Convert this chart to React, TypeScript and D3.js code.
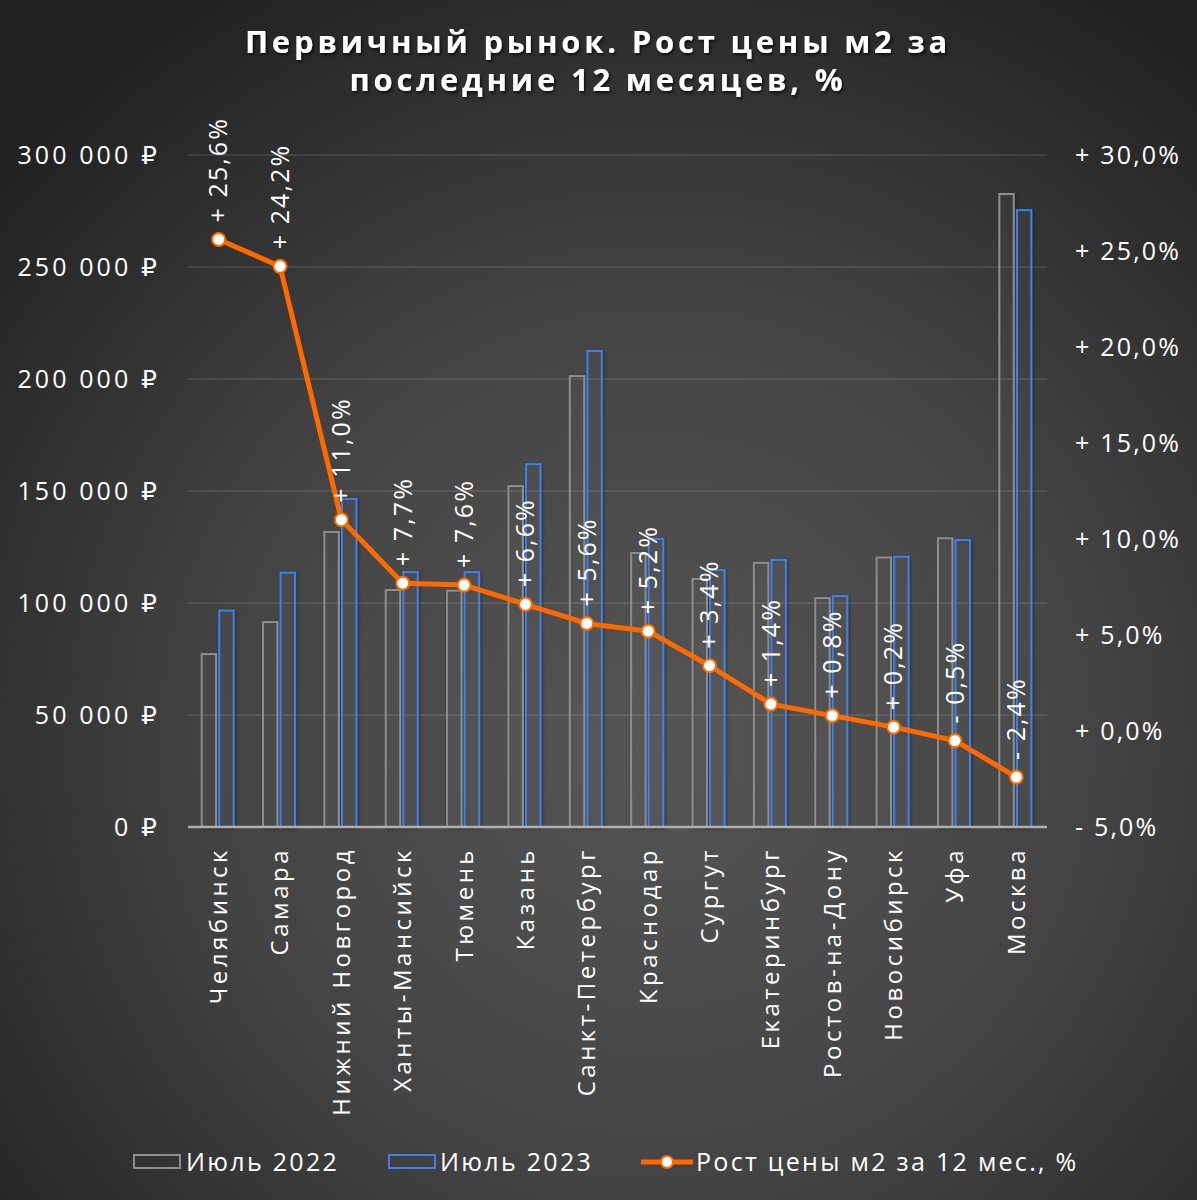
import React from "react";
import * as d3 from "d3";

const cities = ["Челябинск","Самара","Нижний Новгород","Ханты-Мансийск","Тюмень","Казань","Санкт-Петербург","Краснодар","Сургут","Екатеринбург","Ростов-на-Дону","Новосибирск","Уфа","Москва"];
const july2022 = [77200,91500,131700,105800,105500,152200,201300,122300,110700,117900,102200,120300,128900,282600];
const july2023 = [96600,113500,146400,113800,113800,162000,212500,128600,114700,119200,103100,120600,128100,275400];
const growth = [25.6,24.2,11.0,7.7,7.6,6.6,5.6,5.2,3.4,1.4,0.8,0.2,-0.5,-2.4];
const leftTicks = [0,50000,100000,150000,200000,250000,300000];
const rightTicks = [-5,0,5,10,15,20,25,30];
const series = ["Июль 2022","Июль 2023"];
const lineName = "Рост цены м2 за 12 мес., %";
const titleLines = ["Первичный рынок. Рост цены м2 за","последние 12 месяцев, %"];

const W = 1197, H = 1200;
const FONT = "'Open Sans','DejaVu Sans',sans-serif";
const ORANGE = "#ff6a00";
const GRAY = "#8e8e8e";
const BLUE = "#3f80ea";

const fmtNum = (v: number) => (v === 0 ? "0 ₽" : d3.format(",")(v).replace(/,/g, " ") + " ₽");
const fmtPct = (v: number) => (v < 0 ? "- " : "+ ") + Math.abs(v).toFixed(1).replace(".", ",") + "%";

export default function App() {
  const x = d3.scaleBand<string>().domain(cities).range([188, 1047]);
  const bw = x.bandwidth();
  const x1 = d3.scaleBand<string>().domain(series).range([bw / 2 - 17, bw / 2 + 15]).paddingInner(0.18);
  const yL = d3.scaleLinear().domain([0, 300000]).range([827, 155]);
  const yR = d3.scaleLinear().domain([-5, 30]).range([827, 155]);
  const cx = (c: string) => (x(c) as number) + bw / 2;
  const line = d3.line<number>().x((_, i) => cx(cities[i])).y((d) => yR(d));

  return (
    <svg width={W} height={H} style={{ display: "block", position: "absolute", left: 0, top: 0 }} fontFamily={FONT}>
      <defs>
        <radialGradient id="bg" cx="55%" cy="62%" r="72%">
          <stop offset="0%" stopColor="#555555" />
          <stop offset="50%" stopColor="#444444" />
          <stop offset="100%" stopColor="#222222" />
        </radialGradient>
        <filter id="ts" x="-10%" y="-30%" width="120%" height="160%">
          <feDropShadow dx="1.5" dy="2" stdDeviation="1.5" floodColor="#000" floodOpacity="0.7" />
        </filter>
        <filter id="bs" x="-50%" y="-10%" width="200%" height="120%">
          <feDropShadow dx="1" dy="1" stdDeviation="1.5" floodColor="#000" floodOpacity="0.45" />
        </filter>
      </defs>
      <rect x={0} y={0} width={W} height={H} fill="url(#bg)" />

      {titleLines.map((t, i) => (
        <text key={i} x={598} y={53 + i * 38} textAnchor="middle" fill="#fff" fontSize={31} fontWeight={700} letterSpacing={3.8} filter="url(#ts)">{t}</text>
      ))}

      {leftTicks.map((t) => (
        <g key={t}>
          {t !== 0 && <line x1={188} x2={1047} y1={yL(t)} y2={yL(t)} stroke="#ffffff" strokeOpacity={0.13} strokeWidth={1.5} />}
          <text x={160} y={yL(t)} dy="0.35em" textAnchor="end" fill="#fff" fontSize={25} letterSpacing={3.1}>{fmtNum(t)}</text>
        </g>
      ))}
      {rightTicks.map((t) => (
        <text key={t} x={1075} y={yR(t)} dy="0.35em" textAnchor="start" fill="#fff" fontSize={25} letterSpacing={2.2}>{fmtPct(t)}</text>
      ))}

      {cities.map((c, i) => (
        <g key={c} transform={`translate(${x(c)},0)`} filter="url(#bs)">
          <rect x={x1(series[0])} y={yL(july2022[i])} width={x1.bandwidth()} height={yL(0) - yL(july2022[i])} fill="#ffffff" fillOpacity={0.02} stroke={GRAY} strokeWidth={2} />
          <rect x={x1(series[1])} y={yL(july2023[i])} width={x1.bandwidth()} height={yL(0) - yL(july2023[i])} fill="#ffffff" fillOpacity={0.02} stroke={BLUE} strokeWidth={2} />
        </g>
      ))}

      <line x1={188} x2={1047} y1={yL(0)} y2={yL(0)} stroke="#b0b0b0" strokeWidth={2.5} />

      {cities.map((c) => (
        <text key={c} transform={`translate(${cx(c)},${847}) rotate(-90)`} dy="0.35em" textAnchor="end" fill="#fff" fontSize={24} letterSpacing={3.5}>{c}</text>
      ))}

      <path d={line(growth) || ""} fill="none" stroke={ORANGE} strokeWidth={5} strokeLinejoin="round" />
      {growth.map((g, i) => (
        <circle key={i} cx={cx(cities[i])} cy={yR(g)} r={6.5} fill="#fff" stroke={ORANGE} strokeWidth={2} />
      ))}
      {growth.map((g, i) => (
        <text key={i} transform={`translate(${cx(cities[i])},${yR(g) - 17}) rotate(-90)`} dy="0.35em" textAnchor="start" fill="#fff" fontSize={25} letterSpacing={2.1}>{fmtPct(g)}</text>
      ))}

      <g fontSize={25} fill="#fff" letterSpacing={2.3}>
        <rect x={134} y={1155} width={46} height={13} fill="none" stroke={GRAY} strokeWidth={2} />
        <text x={186} y={1162} dy="0.35em">{series[0]}</text>
        <rect x={389} y={1155} width={46} height={13} fill="none" stroke={BLUE} strokeWidth={2} />
        <text x={440} y={1162} dy="0.35em">{series[1]}</text>
        <line x1={641} x2={693} y1={1162} y2={1162} stroke={ORANGE} strokeWidth={5} />
        <circle cx={667} cy={1162} r={6} fill="#fff" stroke={ORANGE} strokeWidth={2} />
        <text x={696} y={1162} dy="0.35em">{lineName}</text>
      </g>
    </svg>
  );
}
